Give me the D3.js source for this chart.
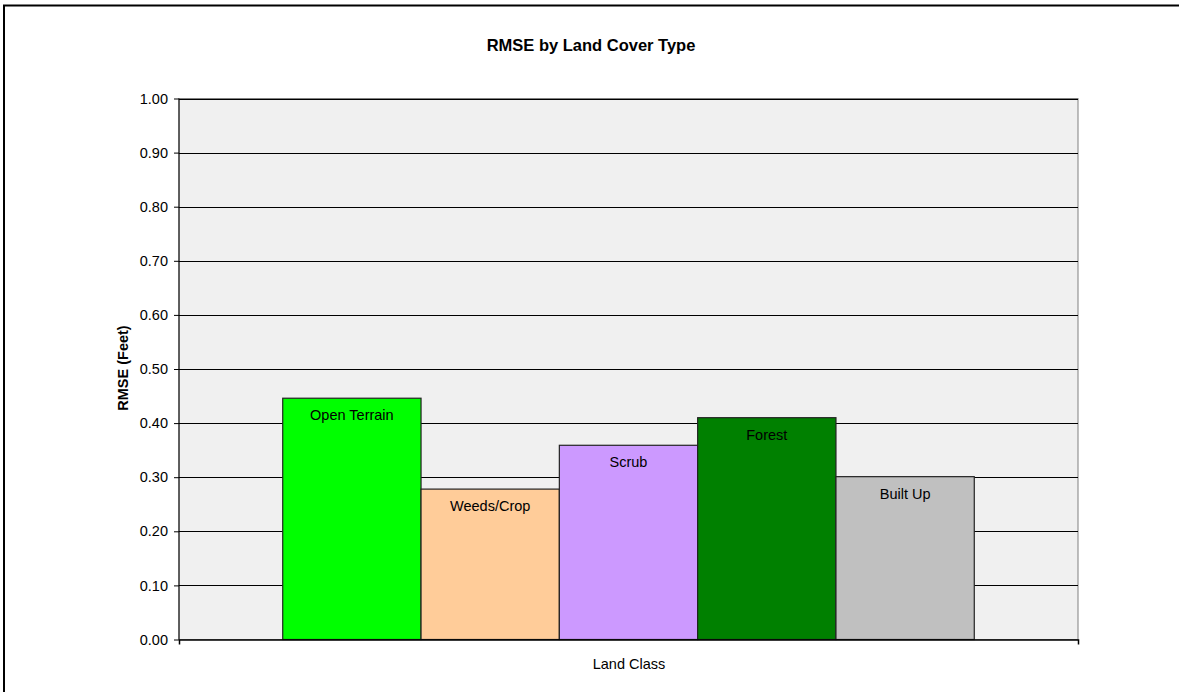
<!DOCTYPE html>
<html>
<head>
<meta charset="utf-8">
<script src="https://cdn.jsdelivr.net/npm/d3@7"></script>
<style>
  html, body { margin: 0; padding: 0; background: #fff; }
  svg { display: block; }
  text { font-family: "Liberation Sans", Arial, sans-serif; fill: #000; }
</style>
</head>
<body>
<svg id="chart" width="1179" height="692"></svg>
<script>
// ---- data ----
const categories = ["Land Class"];
const seriesNames = ["Open Terrain", "Weeds/Crop", "Scrub", "Forest", "Built Up"];
const seriesValues = [0.446, 0.278, 0.359, 0.410, 0.301];
const seriesColors = ["#00FF00", "#FFCC99", "#CC99FF", "#008000", "#C0C0C0"];
const yTicks = [0, 0.1, 0.2, 0.3, 0.4, 0.5, 0.6, 0.7, 0.8, 0.9, 1.0];
const chartTitle = "RMSE by Land Cover Type";
const yTitle = "RMSE (Feet)";
const xTitle = "Land Class";

// ---- layout ----
const svg = d3.select("#chart");
const plot = { left: 179, right: 1078, top: 98.5, bottom: 639.5 };

// outer chart border (left and top edges visible)
svg.append("path")
  .attr("d", "M4,700 L4,5.5 L1190,5.5")
  .attr("fill", "none").attr("stroke", "#000").attr("stroke-width", 2);

const y = d3.scaleLinear().domain([0, 1]).range([plot.bottom, plot.top]);
const x0 = d3.scaleBand().domain(categories).range([plot.left, plot.right])
  .paddingInner(0).paddingOuter(0.15);
const x1 = d3.scaleBand().domain(seriesNames).range([0, x0.bandwidth()]).padding(0);

// plot area background
svg.append("rect")
  .attr("x", plot.left).attr("y", plot.top)
  .attr("width", plot.right - plot.left).attr("height", plot.bottom - plot.top)
  .attr("fill", "#f0f0f0").attr("stroke", "#808080").attr("stroke-width", 1);

// gridlines
svg.append("g").selectAll("line").data(yTicks.filter(d => d > 0))
  .join("line")
  .attr("x1", plot.left).attr("x2", plot.right)
  .attr("y1", d => Math.round(y(d)) + 0.5).attr("y2", d => Math.round(y(d)) + 0.5)
  .attr("stroke", "#000").attr("stroke-width", 1);

// bars
const g = svg.append("g").attr("transform", `translate(${x0(categories[0])},0)`);
const data = seriesNames.map((n, i) => ({ name: n, value: seriesValues[i], color: seriesColors[i] }));
g.selectAll("rect").data(data).join("rect")
  .attr("x", d => x1(d.name))
  .attr("y", d => y(d.value))
  .attr("width", x1.bandwidth())
  .attr("height", d => y(0) - y(d.value))
  .attr("fill", d => d.color)
  .attr("stroke", "#222").attr("stroke-width", 1.2);

g.selectAll("text").data(data).join("text")
  .attr("x", d => x1(d.name) + x1.bandwidth() / 2)
  .attr("y", d => y(d.value) + 22)
  .attr("text-anchor", "middle")
  .attr("font-size", "14.5px")
  .text(d => d.name);

// y axis
const yAxis = d3.axisLeft(y).tickValues(yTicks).tickFormat(d3.format(".2f"))
  .tickSize(5).tickPadding(6);
const ya = svg.append("g").attr("transform", `translate(${plot.left},0)`).call(yAxis);
ya.select(".domain").attr("stroke", "#000").attr("d", `M0,${plot.top}V${plot.bottom}`);
ya.selectAll(".tick line").attr("stroke", "#000");
ya.selectAll(".tick text").attr("font-size", "14.5px")
  .attr("font-family", "'Liberation Sans', Arial, sans-serif").attr("fill", "#000");

// x axis
const xAxis = d3.axisBottom(x0).tickValues([]).tickSizeOuter(5);
const xa = svg.append("g").attr("transform", `translate(0,${plot.bottom})`).call(xAxis);
xa.select(".domain").attr("stroke", "#000").attr("stroke-width", 1.5);

// titles
svg.append("text").attr("x", 591).attr("y", 51)
  .attr("text-anchor", "middle").attr("font-size", "16.5px").attr("font-weight", "bold")
  .text(chartTitle);

svg.append("text").attr("x", 629).attr("y", 669)
  .attr("text-anchor", "middle").attr("font-size", "14.5px")
  .text(xTitle);

svg.append("text")
  .attr("transform", `translate(128,368) rotate(-90)`)
  .attr("text-anchor", "middle").attr("font-size", "14.5px").attr("font-weight", "bold")
  .text(yTitle);
</script>
</body>
</html>
